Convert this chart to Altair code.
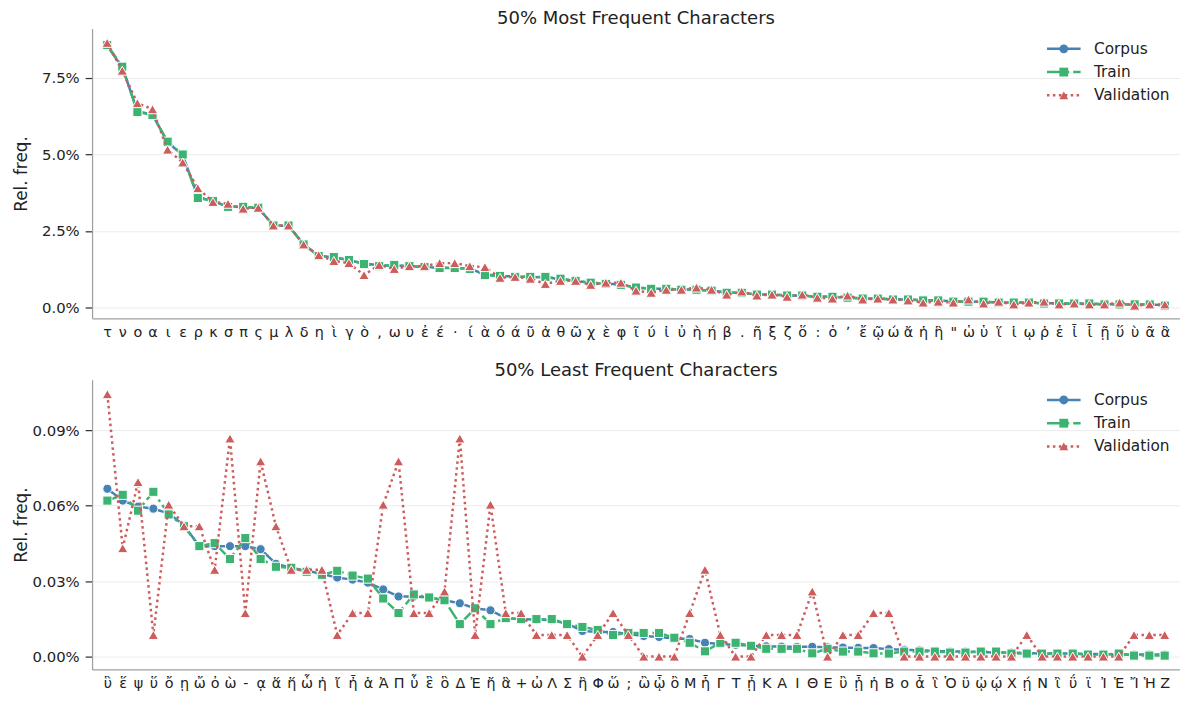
import altair as alt
import pandas as pd

# ---------------- data ----------------
top_chars = ["τ", "ν", "ο", "α", "ι", "ε", "ρ", "κ", "σ", "π", "ς", "μ", "λ", "δ", "η", "ὶ", "γ", "ὸ",
             ",", "ω", "υ", "ἐ", "έ", "·", "ί", "ὰ", "ό", "ά", "ῦ", "ἀ", "θ", "ῶ", "χ", "ὲ", "φ", "ῖ",
             "ύ", "ἰ", "ὐ", "ὴ", "ή", "β", ".", "ῆ", "ξ", "ζ", "ὅ", ":", "ὁ", "ʼ", "ἔ", "ῷ", "ώ",
             "ἄ", "ἡ", "ἣ", "\"", "ὡ", "ὑ", "ἵ", "ἱ", "ῳ", "ῥ", "ἑ", "ἶ", "ἷ", "ῇ", "ὕ", "ὺ", "ᾶ", "ἂ"]
# values in percent
top_corpus = [8.55, 7.85, 6.42, 6.30, 5.40, 4.98, 3.62, 3.47, 3.30, 3.28,
              3.25, 2.68, 2.67, 2.06, 1.69, 1.64, 1.54, 1.44, 1.38, 1.37,
              1.35, 1.32, 1.30, 1.29, 1.27, 1.08, 1.03, 1.01, 1.00, 0.98,
              0.93, 0.87, 0.81, 0.78, 0.75, 0.65, 0.62, 0.61, 0.59, 0.58,
              0.55, 0.49, 0.47, 0.43, 0.42, 0.40, 0.38, 0.36, 0.35, 0.32,
              0.30, 0.29, 0.27, 0.26, 0.24, 0.23, 0.20, 0.19, 0.18, 0.17,
              0.16, 0.16, 0.14, 0.13, 0.13, 0.12, 0.11, 0.10, 0.10, 0.09, 0.08]
top_train = [8.58, 7.87, 6.39, 6.29, 5.42, 5.00, 3.58, 3.48, 3.29, 3.29,
             3.26, 2.68, 2.68, 2.06, 1.68, 1.65, 1.55, 1.42, 1.35, 1.39,
             1.35, 1.32, 1.29, 1.29, 1.26, 1.06, 1.03, 1.00, 1.00, 1.00,
             0.94, 0.87, 0.81, 0.77, 0.74, 0.65, 0.61, 0.61, 0.58, 0.58,
             0.55, 0.48, 0.48, 0.42, 0.42, 0.39, 0.39, 0.35, 0.35, 0.32,
             0.29, 0.29, 0.26, 0.26, 0.23, 0.23, 0.19, 0.19, 0.19, 0.16,
             0.16, 0.16, 0.13, 0.13, 0.13, 0.13, 0.10, 0.10, 0.10, 0.10, 0.06]
top_val = [8.65, 7.74, 6.68, 6.48, 5.16, 4.74, 3.90, 3.45, 3.39, 3.23,
           3.26, 2.68, 2.68, 2.06, 1.71, 1.52, 1.45, 1.06, 1.39, 1.26,
           1.35, 1.35, 1.45, 1.45, 1.35, 1.32, 0.97, 1.00, 0.94, 0.77,
           0.87, 0.87, 0.74, 0.81, 0.81, 0.55, 0.48, 0.58, 0.58, 0.65,
           0.58, 0.42, 0.52, 0.39, 0.42, 0.35, 0.42, 0.32, 0.29, 0.39,
           0.26, 0.29, 0.26, 0.23, 0.16, 0.19, 0.16, 0.26, 0.13, 0.19,
           0.10, 0.16, 0.19, 0.10, 0.13, 0.10, 0.10, 0.16, 0.06, 0.10, 0.10]

bot_chars = ["ὓ", "ἕ", "ψ", "ὕ", "ὄ", "ῃ", "ὤ", "ὀ", "ὼ", "-", "ᾳ", "ἅ", "ἥ", "ὧ", "ἠ", "ἴ", "ἦ",
             "ἁ", "Ἀ", "Π", "ὗ", "ἓ", "ὃ", "Δ", "Ἐ", "ἤ", "ἃ", "+", "ὠ", "Λ", "Σ", "ἢ", "Φ", "ὥ",
             ";", "ὢ", "ᾧ", "ὂ", "Μ", "ἧ", "Γ", "Τ", "ᾖ", "Κ", "Α", "Ι", "Θ", "Ε", "ὒ", "ᾗ", "ἡ",
             "Β", "o", "ἆ", "ἳ", "Ὁ", "ϋ", "ᾠ", "ῴ", "Χ", "ῄ", "Ν", "ἲ", "ΰ", "ϊ", "Ἰ", "Ἑ", "Ἴ",
             "Ἡ", "Ζ"]
# values in units of 0.01 %
bot_corpus = [6.67, 6.20, 5.96, 5.88, 5.69, 5.22, 4.39, 4.39, 4.39, 4.39,
              4.27, 3.69, 3.53, 3.41, 3.29, 3.14, 3.06, 2.94, 2.67, 2.39,
              2.39, 2.35, 2.24, 2.12, 1.92, 1.84, 1.53, 1.49, 1.47, 1.45,
              1.31, 1.02, 0.98, 0.98, 0.90, 0.82, 0.78, 0.72, 0.70, 0.55,
              0.50, 0.47, 0.43, 0.41, 0.40, 0.39, 0.39, 0.37, 0.36, 0.35,
              0.34, 0.30, 0.27, 0.25, 0.23, 0.20, 0.20, 0.18, 0.16, 0.16,
              0.14, 0.12, 0.12, 0.12, 0.10, 0.10, 0.08, 0.08, 0.08, 0.08]
bot_train = [6.20, 6.43, 5.80, 6.55, 5.65, 5.18, 4.39, 4.51, 3.88, 4.71,
             3.88, 3.57, 3.53, 3.37, 3.25, 3.41, 3.22, 3.10, 2.31, 1.73,
             2.47, 2.35, 2.24, 1.29, 1.92, 1.29, 1.53, 1.49, 1.49, 1.49,
             1.29, 1.18, 1.06, 0.86, 0.94, 0.94, 0.94, 0.75, 0.55, 0.21,
             0.55, 0.55, 0.43, 0.31, 0.31, 0.31, 0.13, 0.31, 0.20, 0.20,
             0.13, 0.12, 0.20, 0.20, 0.20, 0.16, 0.16, 0.20, 0.20, 0.12,
             0.12, 0.12, 0.12, 0.12, 0.08, 0.08, 0.12, 0.04, 0.04, 0.04]
bot_val = [10.43, 4.31, 6.94, 0.86, 6.04, 5.18, 5.18, 3.45, 8.67, 1.73,
           7.76, 5.18, 3.45, 3.45, 3.45, 0.86, 1.73, 1.73, 6.04, 7.76,
           1.73, 1.73, 2.59, 8.67, 0.86, 6.04, 1.73, 1.73, 0.86, 0.86,
           0.86, 0.00, 0.86, 1.73, 0.86, 0.00, 0.00, 0.00, 1.73, 3.45,
           0.86, 0.00, 0.00, 0.86, 0.86, 0.86, 2.59, 0.00, 0.86, 0.86,
           1.73, 1.73, 0.00, 0.00, 0.00, 0.00, 0.00, 0.00, 0.00, 0.00,
           0.86, 0.00, 0.00, 0.00, 0.00, 0.00, 0.00, 0.86, 0.86, 0.86]

series_names = ["Corpus", "Train", "Validation"]
marker_keys = ["Corpus ", "Train ", "Validation "]   # separate domain -> separate marker legend
series_colors = ["#4682b4", "#3cb371", "#cd5c5c"]
series_dashes = [[1, 0], [16, 4, 2.5, 4], [2.5, 3.5]]
series_shapes = ["circle", "square", "triangle-up"]
series_sizes = [85, 85, 110]

FONT = "DejaVu Sans"
TXT = "#222222"


def make_df(chars, vals_list, scale):
    rows = []
    for name, key, vals in zip(series_names, marker_keys, vals_list):
        for ch, v in zip(chars, vals):
            rows.append({"char": ch, "series": name, "mk": key, "value": v * scale})
    return pd.DataFrame(rows)


LEG_X = 974.75
LEG_Y = 12.75
ROW_PAD = 6.5

# legend 1: coloured, dashed line symbols (a 34px horizontal path) with labels
line_legend = alt.Legend(
    title=None, orient="none", legendX=LEG_X, legendY=LEG_Y, padding=0,
    symbolType="M-3.4,0L3.4,0", symbolSize=100, symbolStrokeWidth=2.5,
    labelFontSize=15.5, labelFont=FONT, labelColor=TXT, labelOffset=22.75,
    rowPadding=ROW_PAD, labelLimit=300, zindex=1,
)
# legend 2: the markers, laid over the middle of the lines, no labels
mark_legend = alt.Legend(
    title=None, orient="none", legendX=LEG_X, legendY=LEG_Y, padding=0,
    symbolSize=80, symbolStrokeColor="white", symbolStrokeWidth=1,
    labelFontSize=15.5, labelExpr="''", rowPadding=ROW_PAD, zindex=2,
)


def panel(df, chars, title, domain, ticks, fmt):
    x = alt.X("char:N", sort=chars,
              scale=alt.Scale(type="point", padding=1.55),
              axis=alt.Axis(title=None, labelAngle=0, ticks=False, tickSize=0,
                            labelPadding=7, labelFontSize=14.5, grid=False,
                            labelOverlap=False, labelColor=TXT, labelFont=FONT))
    y = alt.Y("value:Q",
              scale=alt.Scale(domain=domain, nice=False, zero=False),
              axis=alt.Axis(title="Rel. freq.", values=ticks, format=fmt,
                            grid=True, tickSize=7, labelPadding=6,
                            minExtent=60, maxExtent=60, titlePadding=2,
                            labelFontSize=15, titleFontSize=17,
                            titleFontWeight="normal", labelColor=TXT, titleColor=TXT))
    color = alt.Color("series:N", scale=alt.Scale(domain=series_names, range=series_colors),
                      legend=line_legend)
    dash = alt.StrokeDash("series:N", scale=alt.Scale(domain=series_names, range=series_dashes),
                          legend=line_legend)
    fill = alt.Fill("mk:N", scale=alt.Scale(domain=marker_keys, range=series_colors),
                    legend=mark_legend)
    shape = alt.Shape("mk:N", scale=alt.Scale(domain=marker_keys, range=series_shapes),
                      legend=mark_legend)
    layers = []
    for name, sz in zip(series_names, series_sizes):
        base = alt.Chart(df).transform_filter(alt.datum.series == name)
        line = base.mark_line(strokeWidth=2.5).encode(x=x, y=y, color=color, strokeDash=dash)
        pts = base.mark_point(filled=True, size=sz, stroke="white", strokeWidth=1,
                              opacity=1).encode(x=x, y=y, fill=fill, shape=shape)
        layers += [line, pts]
    return alt.layer(*layers).properties(
        width=1100, height=293,
        title=alt.TitleParams(title, fontSize=18.2, font=FONT, fontWeight="normal",
                              color=TXT, offset=0, anchor="middle"))


top_df = make_df(top_chars, [top_corpus, top_train, top_val], 0.01)
bot_df = make_df(bot_chars, [bot_corpus, bot_train, bot_val], 0.0001)

top = panel(top_df, top_chars, "50% Most Frequent Characters",
            [-0.00356, 0.09117], [0, 0.025, 0.05, 0.075], ".1%")
bottom = panel(bot_df, bot_chars, "50% Least Frequent Characters",
               [-0.0000511, 0.0011006], [0, 0.0003, 0.0006, 0.0009], ".2%")

chart = (
    alt.vconcat(top, bottom, spacing=21)
    .resolve_scale(color="independent", strokeDash="independent",
                   fill="independent", shape="independent")
    .resolve_legend(color="independent", strokeDash="independent",
                    fill="independent", shape="independent")
    .properties(padding={"left": 5, "top": -3, "right": 0, "bottom": 0}, background="white")
    .configure(font=FONT)
    .configure_view(stroke=None)
    .configure_axis(domainColor="#a0a0a0", domainWidth=1.25, tickColor="#333333",
                    tickWidth=1.25, gridColor="#ebebeb", gridWidth=1,
                    labelFont=FONT, titleFont=FONT)
)

chart.save("out.html", embed_options={"renderer": "svg", "actions": False})
